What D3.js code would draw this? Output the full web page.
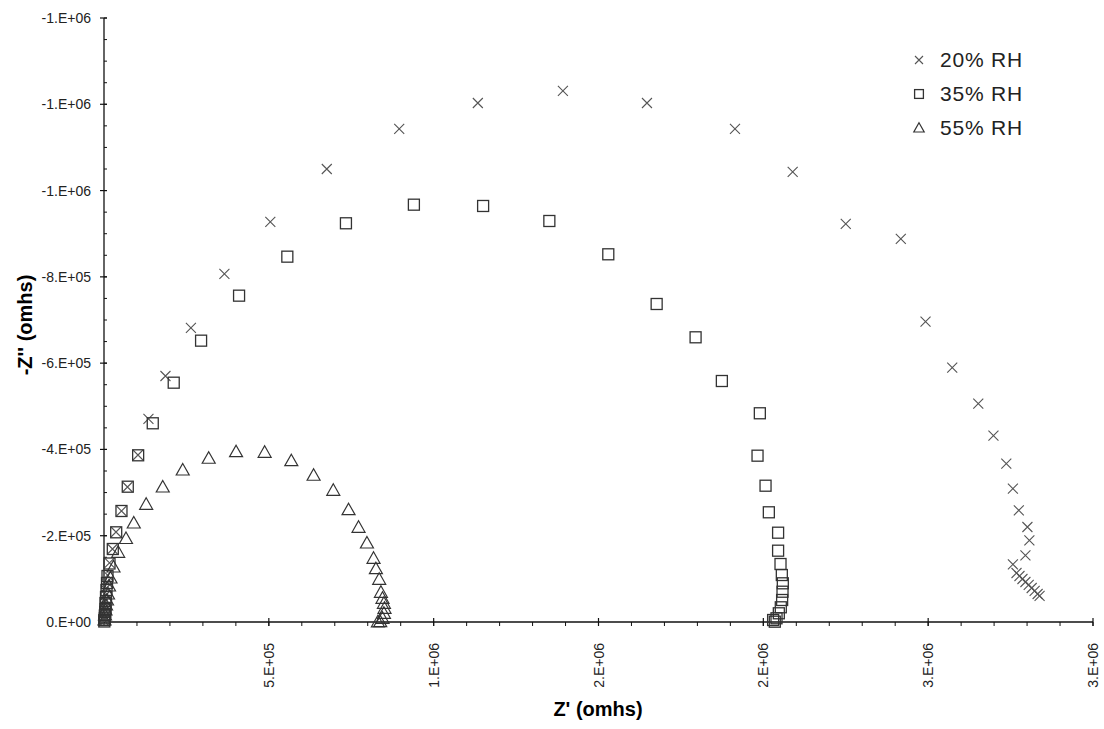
<!DOCTYPE html>
<html>
<head>
<meta charset="utf-8">
<script src="https://d3js.org/d3.v7.min.js"></script>
<style>
body { margin: 0; background: #fff; }
text { font-family: Arial, "Liberation Sans", sans-serif; }
</style>
</head>
<body>
<script>

// series names (legend)
var seriesNames = ["20% RH", "35% RH", "55% RH"];

// 20% RH : Z' and Z'' (ohms)
var rh20Re = [800, 1200, 1500, 2000, 3000, 3500, 4500, 4500, 6100, 7600, 9100, 10600, 16700, 25800, 36400, 53000, 71200,
              103000, 134800, 186400, 263600, 365200, 504500, 675800, 895500, 1134000, 1392000,
              1647000, 1914000, 2089000, 2250000, 2417000, 2492000, 2573000, 2652000, 2698000,
              2737000, 2757000, 2775000, 2801000, 2807000, 2795000, 2757000, 2768000, 2777000,
              2786000, 2795000, 2805000, 2814000, 2823000, 2832000, 2838000];
var rh20Im = [-2000, -5500, -9300, -14000, -20900, -27500, -34800, -48700, -62600, -78800, -92700, -108900, -136800, -169200,
              -208600, -257300, -312900, -387100, -470600, -570200, -681500, -806700, -927200,
              -1050000, -1142800, -1203000, -1230900, -1203000, -1142800, -1043100, -922600,
              -887800, -696100, -589500, -506000, -431900, -366900, -309000, -258900, -220200,
              -189400, -154600, -133800, -113600, -106600, -99700, -92700, -85800, -78800,
              -71900, -64900, -60300];

// 35% RH
var rh35Re = [900, 1500, 2200, 3000, 3800, 4500, 4500, 6100, 7600, 9100, 10600, 16700, 26700, 37000, 53000, 72100,
              103600, 147900, 211500, 294500, 409700, 556100, 733900, 940000, 1150000, 1350900,
              1529700, 1676400, 1794500, 1874200, 1989400, 1982400, 2006700, 2016700, 2044800,
              2044800, 2052100, 2056100, 2059100, 2058200, 2057000, 2053000, 2047000, 2040000,
              2034800, 2029700];
var rh35Im = [-1200, -4600, -10000, -16200, -23000, -30100, -44000, -58000, -74200, -90400, -106600, -135600, -169200,
              -207900, -257300, -313600, -386400, -460600, -554700, -652100, -756400, -846800,
              -924200, -967300, -964300, -929500, -852300, -737100, -659900, -558600, -483800,
              -385500, -315900, -254300, -207000, -165300, -134400, -108900, -89700, -70200,
              -51000, -34100, -20200, -8600, -700, -4600];

// 55% RH
var rh55Re = [1500, 3000, 4500, 6100, 9100, 12100, 15200, 19700, 28800, 43000, 66700, 90300,
              127900, 178200, 238800, 317600, 400600, 487300, 568200, 635800, 695500, 741800,
              772100, 797600, 817600, 824800, 834800, 840000, 844800, 849100, 850900, 849100,
              844800, 837900, 830900];
var rh55Im = [-4600, -16200, -27800, -39400, -51000, -64900, -83400, -102000, -127500, -161600,
              -193600, -229500, -272800, -312900, -352300, -379500, -394800, -393400, -373900,
              -340100, -305300, -260300, -219500, -183100, -147700, -123500, -99000, -68800,
              -54900, -43400, -31800, -20200, -8600, -700, -500];

// axis ticks
var xTickValues = [500000, 1000000, 1500000, 2000000, 2500000, 3000000];
var yTickValues = [0, -200000, -400000, -600000, -800000, -1000000, -1200000, -1400000];

var width = 1104, height = 729;
var margin = {left: 104, right: 11, top: 18, bottom: 107};

var svg = d3.select("body").append("svg")
    .attr("width", width)
    .attr("height", height);

var x = d3.scaleLinear().domain([0, 3000000]).range([margin.left, width - margin.right]);
var y = d3.scaleLinear().domain([0, -1400000]).range([height - margin.bottom, margin.top]);

// Excel style "0.E+00"
function fmt(v) {
    if (v === 0) return "0.E+00";
    var s = v < 0 ? "-" : "";
    var a = Math.abs(v);
    var e = Math.floor(Math.log10(a));
    var m = Math.round(a / Math.pow(10, e));
    if (m >= 10) { m = 1; e++; }
    return s + m + ".E+" + String(e).padStart(2, "0");
}

var axisColor = "#111";
var x0 = x(0), y0 = y(0);

// x axis
svg.append("line").attr("x1", x0).attr("x2", x(3000000)).attr("y1", y0).attr("y2", y0)
    .attr("stroke", axisColor).attr("stroke-width", 1.3);
svg.selectAll(".xminor").data(d3.range(0, 3000001, 100000)).enter().append("line")
    .attr("x1", function(d) { return x(d); }).attr("x2", function(d) { return x(d); })
    .attr("y1", y0).attr("y2", y0 + 4)
    .attr("stroke", axisColor).attr("stroke-width", 1);
svg.selectAll(".xmajor").data(xTickValues).enter().append("line")
    .attr("x1", function(d) { return x(d); }).attr("x2", function(d) { return x(d); })
    .attr("y1", y0 - 4).attr("y2", y0 + 4)
    .attr("stroke", axisColor).attr("stroke-width", 1.2);
svg.selectAll(".xlab").data(xTickValues).enter().append("text")
    .attr("transform", function(d) { return "translate(" + (x(d) + 5) + "," + (y0 + 21) + ") rotate(-90)"; })
    .attr("text-anchor", "end")
    .attr("font-size", "14px")
    .attr("fill", "#222")
    .text(function(d) { return fmt(d); });

// y axis
svg.append("line").attr("x1", x0).attr("x2", x0).attr("y1", y0).attr("y2", y(-1400000))
    .attr("stroke", axisColor).attr("stroke-width", 1.3);
svg.selectAll(".yminor").data(d3.range(0, -1400001, -50000)).enter().append("line")
    .attr("x1", x0).attr("x2", x0 + 3)
    .attr("y1", function(d) { return y(d); }).attr("y2", function(d) { return y(d); })
    .attr("stroke", axisColor).attr("stroke-width", 1);
svg.selectAll(".ymajor").data(yTickValues).enter().append("line")
    .attr("x1", x0 - 4).attr("x2", x0 + 3)
    .attr("y1", function(d) { return y(d); }).attr("y2", function(d) { return y(d); })
    .attr("stroke", axisColor).attr("stroke-width", 1.2);
svg.selectAll(".ylab").data(yTickValues).enter().append("text")
    .attr("x", x0 - 13)
    .attr("y", function(d) { return y(d) + 5; })
    .attr("text-anchor", "end")
    .attr("font-size", "14px")
    .attr("fill", "#222")
    .text(function(d) { return fmt(d); });

// axis titles
svg.append("text").attr("x", 598).attr("y", 716)
    .attr("text-anchor", "middle").attr("font-size", "20px").attr("font-weight", "bold")
    .text("Z' (omhs)");
svg.append("text").attr("transform", "translate(32,325) rotate(-90)")
    .attr("text-anchor", "middle").attr("font-size", "20px").attr("font-weight", "bold")
    .text("-Z'' (omhs)");

// markers
function drawMarker(g, kind, sc) {
    sc = sc || 1;
    if (kind === 0) {
        g.append("path").attr("d", "M-5,-5L5,5M-5,5L5,-5")
            .attr("transform", "scale(" + sc + ")")
            .attr("stroke", "#555").attr("stroke-width", 1.1 / sc).attr("fill", "none");
    } else if (kind === 1) {
        g.append("rect").attr("x", -5.5).attr("y", -5.5).attr("width", 11).attr("height", 11)
            .attr("transform", "scale(" + sc + ")")
            .attr("stroke", "#333").attr("stroke-width", 1.3 / sc).attr("fill", "none");
    } else {
        g.append("path").attr("d", "M0,-6.5L6.5,5L-6.5,5Z")
            .attr("transform", "scale(" + sc + ")")
            .attr("stroke", "#333").attr("stroke-width", 1.2 / sc).attr("fill", "none");
    }
}

var series = [
    {re: rh20Re, im: rh20Im},
    {re: rh35Re, im: rh35Im},
    {re: rh55Re, im: rh55Im}
];

series.forEach(function(s, k) {
    var pts = s.re.map(function(v, i) { return [v, s.im[i]]; });
    svg.append("g").selectAll("g").data(pts).enter().append("g")
        .attr("transform", function(d) { return "translate(" + x(d[0]) + "," + y(d[1]) + ")"; })
        .each(function() { drawMarker(d3.select(this), k); });
});

// legend
var legend = svg.append("g").selectAll("g").data(seriesNames).enter().append("g")
    .attr("transform", function(d, i) { return "translate(919," + (60 + i * 34) + ")"; });
legend.each(function(d, i) { drawMarker(d3.select(this), i, 0.8); });
legend.append("text").attr("x", 21).attr("y", 7)
    .attr("font-size", "21px").attr("letter-spacing", "0.8px").attr("fill", "#222")
    .text(function(d) { return d; });

</script>
</body>
</html>
